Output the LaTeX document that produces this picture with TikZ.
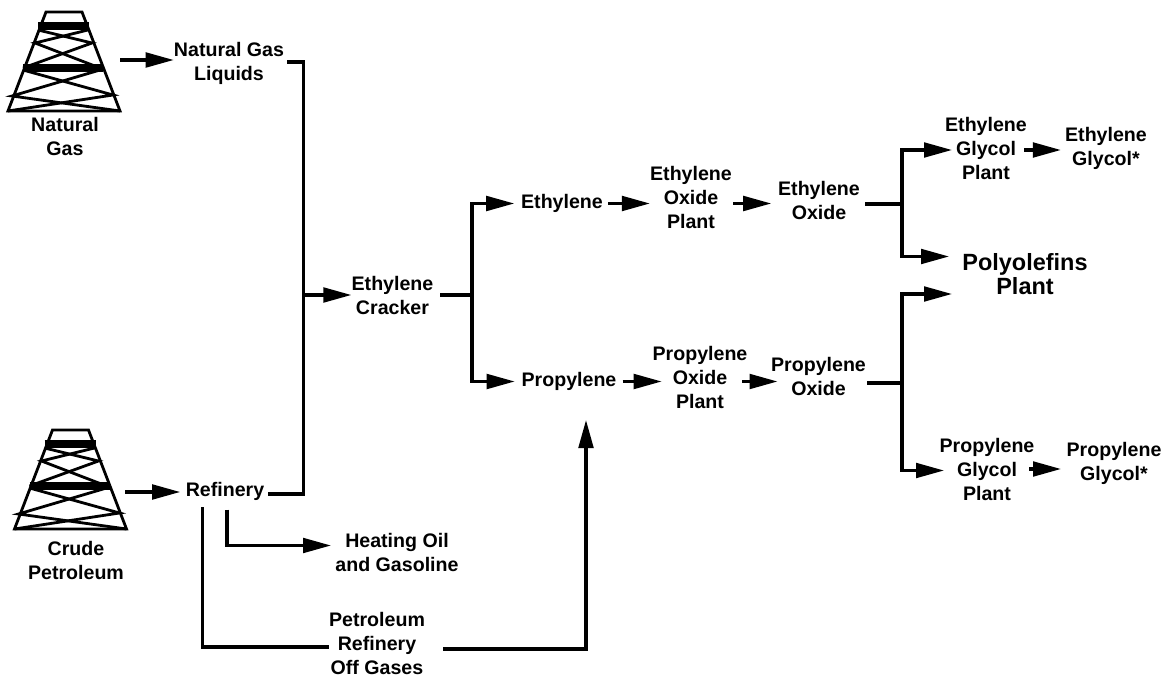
\documentclass[tikz,border=0pt]{standalone}
\usepackage{fontspec}
\setmainfont{Liberation Sans}
\usetikzlibrary{arrows.meta}
\tikzset{
    lbl/.style={align=center, inner sep=0pt, font=\bfseries\fontsize{14.7}{18}\selectfont},
    biglbl/.style={lbl, font=\bfseries\fontsize{17.6}{18}\selectfont},
    pipe/.style={line width=2.3pt},
    flow/.style={pipe, -{Triangle[length=21pt, width=11pt]}},
    rig/.style={line width=2.1pt},
    rigbar/.style={line width=5.4pt},
}

\begin{document}
\begin{tikzpicture}[x=0.75pt, y=-0.75pt]
\useasboundingbox (0,0) rectangle (1167,677);

\foreach \tx/\ty in {64/111, 70.5/529}{%
\begin{scope}[shift={(\tx,\ty)}]
    \draw[rig] (-56,0) -- (-18,-99) -- (18,-99) -- (56,0) -- cycle;
    \draw[rigbar] (-26,-85) -- (25,-85);
    \draw[rigbar] (-41,-43) -- (39,-43);
    \draw[rig] (-26,-81) -- (28,-68) -- (-41,-43);
    \draw[rig] (24,-81) -- (-29,-68) -- (36,-43);
    \draw[rig] (-41,-41) -- (49,-16) -- (-56,0);
    \draw[rig] (36,-41) -- (-52,-15) -- (56,0);
\end{scope}}

\node[lbl] (natgas) at (65,136) {Natural\\Gas};
\node[lbl] (crude) at (76,560) {Crude\\Petroleum};
\node[lbl] (liquids) at (229,63) {Natural Gas\\Liquids};
\node[lbl] (refinery) at (225,491) {Refinery};
\node[lbl] (heating) at (397,552) {Heating Oil\\and Gasoline};
\node[lbl] (offgases) at (377,643) {Petroleum\\Refinery\\Off Gases};
\node[lbl] (cracker) at (392.5,295) {Ethylene\\Cracker};
\node[lbl] (ethylene) at (562,203.5) {Ethylene};
\node[lbl] (propylene) at (569,381.5) {Propylene};
\node[lbl] (eoplant) at (691,197) {Ethylene\\Oxide\\Plant};
\node[lbl] (poplant) at (700,377) {Propylene\\Oxide\\Plant};
\node[lbl] (eoxide) at (819,200) {Ethylene\\Oxide};
\node[lbl] (poxide) at (818.5,376.5) {Propylene\\Oxide};
\node[lbl] (egplant) at (986,148.5) {Ethylene\\Glycol\\Plant};
\node[lbl] (pgplant) at (987,469) {Propylene\\Glycol\\Plant};
\node[lbl] (eglycol) at (1106,148) {Ethylene\\Glycol*};
\node[lbl] (pglycol) at (1114,463.5) {Propylene\\Glycol*};
\node[biglbl] (polyolefins) at (1025,274) {Polyolefins\\Plant};

\coordinate (gasrig) at (120,60);
\coordinate (crudrig) at (125,492);
\coordinate (liqout) at (287,62);
\coordinate (refout) at (268,494);
\coordinate (feedbus) at (303.5,295);
\coordinate (heatin) at (331,545.5);
\coordinate (offin) at (329,647);
\coordinate (offout) at (443,649);
\coordinate (offtip) at (586,420);
\coordinate (crackbus) at (472,295);
\coordinate (eobus) at (902,204);
\coordinate (pobus) at (902,383);
\coordinate (egin) at (952,150);
\coordinate (polyup) at (949,256.5);
\coordinate (polylow) at (952,294);
\coordinate (pgin) at (944,470.5);

\draw[flow] (gasrig) -- (liquids.west |- gasrig);
\draw[flow] (crudrig) -- ([xshift=-4pt]refinery.west |- crudrig);
\draw[pipe] (liqout) -| (feedbus) |- (refout);
\draw[flow] (feedbus) -- (cracker.west);
\draw[pipe] ([xshift=5pt]cracker.east) -- (crackbus);
\draw[line width=3.7pt] (crackbus) -- (crackbus |- ethylene.west);
\draw[flow] (crackbus) |- ([xshift=-5pt]ethylene.west);
\draw[flow] (crackbus) |- ([xshift=-5pt]propylene.west);

\draw[flow] ([xshift=4pt]ethylene.east) -- (eoplant.west |- ethylene.east);
\draw[flow] ([xshift=1pt]eoplant.east |- ethylene.east) -- ([xshift=-5pt]eoxide.west |- ethylene.east);
\draw[pipe] ([xshift=4pt]eoxide.east |- eobus) -- (eobus);
\draw[flow] (eobus) |- (egin);
\draw[flow] (eobus) |- (polyup);
\draw[flow] ([xshift=-2pt]egplant.east |- egin) -- ([xshift=-3pt]eglycol.west |- egin);

\draw[flow] ([xshift=4.5pt]propylene.east) -- ([xshift=7pt]poplant.west |- propylene.east);
\draw[flow] ([xshift=-4pt]poplant.east |- propylene.east) -- ([xshift=5pt]poxide.west |- propylene.east);
\draw[pipe] ([xshift=1pt]poxide.east |- pobus) -- (pobus);
\draw[flow] (pobus) |- (polylow);
\draw[flow] (pobus) |- (pgin);
\draw[flow] ([xshift=-4pt]pgplant.east) -- ([xshift=-4pt]pglycol.west |- pgplant.east);

\draw[pipe] ([xshift=-17pt, yshift=-5pt]refinery.south) |- (offin);
\draw[flow] ([xshift=1.5pt, yshift=-7pt]refinery.south) |- (heatin);
\draw[flow] (offout) -| (offtip);

\end{tikzpicture}
\end{document}
